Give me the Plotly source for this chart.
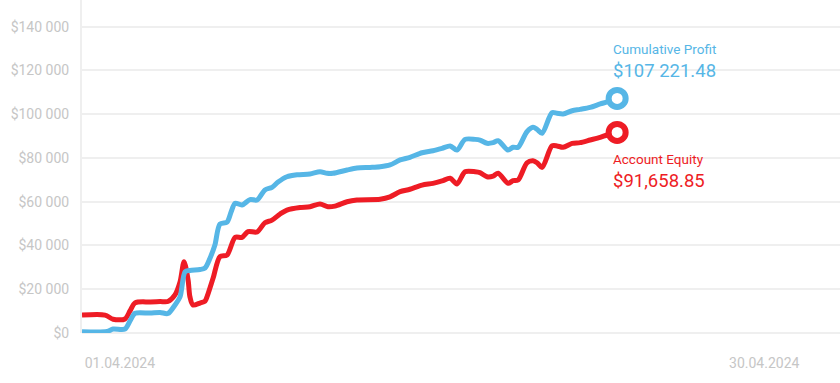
import plotly.graph_objects as go

# Days since 01.04.2024 (x) and values
profit_x = [0.00, 0.99, 1.23, 1.70, 1.90, 2.10, 2.69, 3.09, 3.40, 3.68, 3.88, 4.08, 4.27, 4.67, 4.87,
            5.07, 5.26, 5.46, 5.74, 5.90, 6.06, 6.33, 6.65, 6.93, 7.24, 7.52, 7.76, 8.11, 8.51, 9.02,
            9.42, 9.70, 9.93, 10.49, 10.88, 11.40, 11.80, 12.19, 12.59, 12.98, 13.46, 13.89, 14.25,
            14.57, 14.84, 15.16, 15.56, 15.75, 16.03, 16.27, 16.47, 16.86, 17.06, 17.26, 17.61, 17.85,
            18.01, 18.21, 18.60, 18.80, 19.04, 19.40, 19.71, 20.11, 20.51, 20.78, 21.18]
profit_y = [600, 700, 1800, 1800, 5500, 9000, 9100, 9400, 8900, 12800, 16500, 28000, 28600, 29000, 29700,
            34300, 40200, 49800, 50700, 55300, 59300, 58500, 61000, 60800, 65400, 66600, 69000, 71400, 72300, 72700,
            73700, 73000, 73000, 74500, 75400, 75700, 76000, 76800, 79100, 80300, 82400, 83300, 84400,
            85500, 83600, 88500, 88500, 88200, 86700, 87000, 87900, 83600, 84900, 84900, 92000, 94000,
            93100, 91300, 100700, 100400, 100100, 101600, 102200, 103100, 104700, 105600, 107221.48]

equity_x = [0.00, 0.91, 1.23, 1.70, 1.90, 2.10, 2.69, 3.09, 3.40, 3.68, 3.88, 4.04, 4.20, 4.27, 4.39,
            4.67, 4.87, 4.95, 5.19, 5.46, 5.74, 6.06, 6.33, 6.57, 6.93, 7.24, 7.52, 7.84, 8.11, 8.63,
            9.02, 9.42, 9.74, 10.01, 10.49, 10.88, 11.80, 12.19, 12.59, 12.98, 13.46, 13.89, 14.25,
            14.57, 14.84, 15.16, 15.56, 15.75, 16.03, 16.27, 16.47, 16.86, 17.06, 17.26, 17.61, 17.85,
            18.01, 18.21, 18.60, 18.80, 19.04, 19.40, 19.71, 20.11, 20.51, 20.78, 21.18]
equity_y = [8200, 8200, 6300, 6400, 10100, 13800, 14200, 14400, 14400, 17400, 23300, 32600, 24200, 16600, 12800,
            13700, 14600, 16600, 25100, 34900, 35600, 43700, 43700, 46300, 46200, 50400, 51600, 54400, 56200, 57400,
            57700, 59000, 57700, 58000, 60000, 60800, 61100, 62200, 64600, 65700, 67600, 68400, 69500,
            70700, 68100, 73700, 73700, 73300, 71400, 71700, 73000, 68400, 69600, 69900, 77800, 78700,
            77800, 75700, 85500, 85500, 84900, 86700, 87000, 88200, 89400, 90500, 91658.85]

x_tick_vals = [1.5, 27.0]
x_tick_text = ["01.04.2024", "30.04.2024"]

profit_label = "Cumulative Profit"
profit_value_text = "$107 221.48"
equity_label = "Account Equity"
equity_value_text = "$91,658.85"

BLUE = "#56b6e6"
RED = "#ee1c25"
GRID = "#efefef"
TICK = "#c6c6c6"
FONT = "Roboto"

fig = go.Figure()
fig.add_trace(go.Scatter(
    x=equity_x, y=equity_y, mode="lines",
    line=dict(color=RED, width=5, shape="spline", smoothing=0.8),
    hoverinfo="skip", showlegend=False, cliponaxis=False))
fig.add_trace(go.Scatter(
    x=profit_x, y=profit_y, mode="lines",
    line=dict(color=BLUE, width=5, shape="spline", smoothing=0.8),
    hoverinfo="skip", showlegend=False, cliponaxis=False))
# end markers
fig.add_trace(go.Scatter(
    x=[profit_x[-1]], y=[profit_y[-1]], mode="markers",
    marker=dict(size=17, color="white", line=dict(color=BLUE, width=6)),
    hoverinfo="skip", showlegend=False, cliponaxis=False))
fig.add_trace(go.Scatter(
    x=[equity_x[-1]], y=[equity_y[-1]], mode="markers",
    marker=dict(size=17, color="white", line=dict(color=RED, width=6)),
    hoverinfo="skip", showlegend=False, cliponaxis=False))

annos = [
    (profit_x[-1], profit_y[-1], profit_label, BLUE, 13.5, 49),
    (profit_x[-1], profit_y[-1], profit_value_text, BLUE, 18.5, 27),
    (equity_x[-1], equity_y[-1], equity_label, RED, 13.5, -27),
    (equity_x[-1], equity_y[-1], equity_value_text, RED, 18.5, -49),
]
for ax_, ay_, txt, col, fs, ys in annos:
    fig.add_annotation(x=ax_, y=ay_, text=txt, showarrow=False, xanchor="left", yanchor="middle",
                       xshift=-6, yshift=ys, font=dict(family=FONT, size=fs, color=col))

fig.update_layout(
    width=840, height=383,
    margin=dict(l=82, r=0, t=0, b=50),
    paper_bgcolor="white", plot_bgcolor="white",
    separators=". ",
    font=dict(family=FONT, color=TICK, size=14),
    xaxis=dict(range=[0, 30], tickvals=x_tick_vals, ticktext=x_tick_text,
               showgrid=False, zeroline=False, showline=False, ticks="",
               ticklabelstandoff=20, tickfont=dict(family=FONT, size=14, color=TICK),
               automargin=False, fixedrange=True),
    yaxis=dict(range=[0, 152200], dtick=20000, tick0=0, tickprefix="$", tickformat=",d",
               showgrid=True, gridcolor=GRID, gridwidth=2,
               zeroline=True, zerolinecolor=GRID, zerolinewidth=2,
               showline=True, linecolor=GRID, linewidth=2, ticks="",
               ticklabelstandoff=8, tickfont=dict(family=FONT, size=14, color=TICK),
               automargin=False, fixedrange=True),
)

fig.write_html("out.html", config={"displayModeBar": False},
               post_script="document.body.style.margin='0';document.body.style.overflow='hidden';")
